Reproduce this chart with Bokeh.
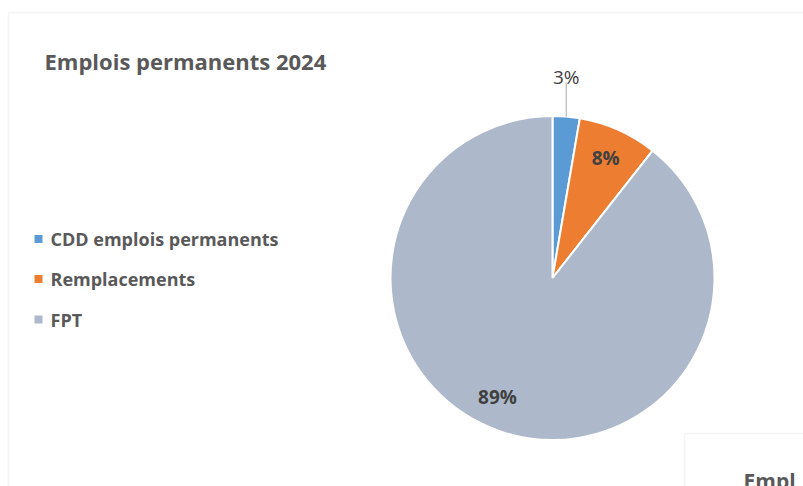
import math
from bokeh.plotting import figure
from bokeh.models import Range1d, BoxAnnotation, ColumnDataSource
from bokeh.core.properties import value
from bokeh.embed import file_html
from bokeh.resources import INLINE

# ---- data ----
title_text = "Emplois permanents 2024"
categories = ["CDD emplois permanents", "Remplacements", "FPT"]
values = [2.7, 7.9, 89.4]
colors = ["#5B9BD5", "#ED7D31", "#ADB9CA"]
next_chart_title = "Empl"

# ---- layout ----
W, H = 803, 486
FONT = "Open Sans"
TXT = "#595959"
LBL = "#404040"
cx, cy_px, R = 552, 277.5, 162


def Y(py):
    return H - py


p = figure(width=W, height=H, x_range=Range1d(0, W), y_range=Range1d(0, H),
           output_backend="svg", toolbar_location=None, min_border=0)
p.axis.visible = False
p.grid.visible = False
p.outline_line_color = None
p.background_fill_color = "white"
p.border_fill_color = "white"

# chart frame (main chart) and a neighbouring chart frame
p.add_layout(BoxAnnotation(left=8, right=W + 20, top=Y(12), bottom=-20,
                           fill_alpha=0, line_color="#D9D9D9", line_width=1.5))
p.add_layout(BoxAnnotation(left=684, right=W + 20, top=Y(433), bottom=-20,
                           fill_alpha=0, line_color="#D9D9D9", line_width=1.5))
p.text(x=[743], y=[Y(480)], text=[next_chart_title], text_font=value(FONT),
       text_font_style="bold", text_font_size="21px", text_color=TXT,
       text_baseline="alphabetic")

# pie
total = sum(values)
fracs = [v / total for v in values]
starts, ends, mids = [], [], []
acc = 0.0
for f in fracs:
    a0 = math.pi / 2 - acc * 2 * math.pi
    a1 = math.pi / 2 - (acc + f) * 2 * math.pi
    starts.append(a0)
    ends.append(a1)
    mids.append((a0 + a1) / 2)
    acc += f

src = ColumnDataSource(dict(x=[cx] * 3, y=[Y(cy_px)] * 3, start=starts, end=ends,
                            color=colors, cat=categories))
p.wedge(x="x", y="y", radius=R, start_angle="start", end_angle="end",
        direction="clock", fill_color="color", line_color="white", line_width=2,
        source=src)

# labels
pct = [f"{round(f * 100)}%" for f in fracs]
for i, (m, t) in enumerate(zip(mids, pct)):
    if fracs[i] < 0.05:
        # outside label with leader line
        px = cx + R * math.cos(m)
        py = Y(cy_px) + R * math.sin(m)
        top = py + 34
        p.line(x=[px, px], y=[py, top], line_color="#A6A6A6", line_width=1)
        p.text(x=[px], y=[top + 6], text=[t], text_font=value(FONT),
               text_font_size="19px", text_color=LBL, text_align="center",
               text_baseline="alphabetic")
    else:
        d = 0.81 * R
        # large slices: label pushed slightly further round (best-fit placement)
        mm = m - (0.1 if fracs[i] > 0.5 else 0.0)
        lx = cx + d * math.cos(mm)
        ly = Y(cy_px) + d * math.sin(mm)
        p.text(x=[lx], y=[ly], text=[t], text_font=value(FONT),
               text_font_style="bold", text_font_size="19px", text_color=LBL,
               text_align="center", text_baseline="middle")

# title
p.text(x=[44], y=[Y(60)], text=[title_text], text_font=value(FONT),
       text_font_style="bold", text_font_size="22px", text_color=TXT,
       text_baseline="alphabetic")

# legend
leg_y = [238.5, 278.5, 319]
p.rect(x=[38] * 3, y=[Y(v) for v in leg_y], width=8, height=8,
       fill_color=colors, line_color=None)
p.text(x=[50] * 3, y=[Y(v) for v in leg_y], text=categories,
       text_font=value(FONT), text_font_style="bold", text_font_size="18px",
       text_color=TXT, text_baseline="middle")

open("out.html", "w").write(file_html(p, INLINE))
